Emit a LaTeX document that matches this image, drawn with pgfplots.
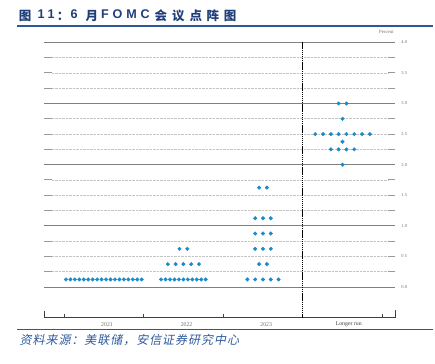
\documentclass[border=0pt]{standalone}
\usepackage{pgfplots}
\pgfplotsset{compat=1.18}
\usepackage{fontspec}
\setmainfont{Liberation Serif}
\newfontfamily\cjk{Noto Sans CJK SC}
\newfontfamily\lat{Liberation Sans}[LetterSpace=30]
\newfontfamily\cjksrc{Noto Sans CJK SC}[FakeSlant=0.2, LetterSpace=8]
\definecolor{dotblue}{HTML}{1B8BC6}
\definecolor{titleblue}{HTML}{1F3F7A}
\definecolor{lineblue}{HTML}{2F559A}
\definecolor{srcblue}{HTML}{2E5A9E}
\definecolor{majorgray}{HTML}{808080}
\definecolor{minorgray}{HTML}{C4C4C4}
\definecolor{labgray}{HTML}{707070}
\begin{document}
\begin{tikzpicture}
\path[use as bounding box] (0,0) rectangle (435bp,364bp);
% title
\begin{scope}[every node/.style={inner sep=0, text=titleblue}]
\node[anchor=base west, font=\cjk\bfseries\fontsize{12.5bp}{15bp}\selectfont] at (18.7bp,343bp) {图};
\node[anchor=base west, font=\lat\bfseries\fontsize{12.6bp}{15bp}\selectfont] at (37.3bp,345bp) {11};
\node[anchor=base, font=\cjk\bfseries\fontsize{12.5bp}{15bp}\selectfont] at (63bp,343bp) {：};
\node[anchor=base west, font=\lat\bfseries\fontsize{12.6bp}{15bp}\selectfont] at (70.5bp,345bp) {6};
\node[anchor=base west, font=\cjk\bfseries\fontsize{12.5bp}{15bp}\selectfont] at (85.3bp,343bp) {月};
\node[anchor=base west, font=\lat\bfseries\fontsize{12.6bp}{15bp}\selectfont] at (101bp,345bp) {FOMC};
\node[anchor=base west, font=\cjk\bfseries\fontsize{12.5bp}{15bp}\selectfont] at (154.3bp,343bp) {会};
\node[anchor=base west, font=\cjk\bfseries\fontsize{12.5bp}{15bp}\selectfont] at (172bp,343bp) {议};
\node[anchor=base west, font=\cjk\bfseries\fontsize{12.5bp}{15bp}\selectfont] at (189.3bp,343bp) {点};
\node[anchor=base west, font=\cjk\bfseries\fontsize{12.5bp}{15bp}\selectfont] at (206.5bp,343bp) {阵};
\node[anchor=base west, font=\cjk\bfseries\fontsize{12.5bp}{15bp}\selectfont] at (223.7bp,343bp) {图};
\end{scope}
\draw[lineblue, line width=1.2bp] (17bp,338bp) -- (433bp,338bp);
\draw[lineblue, line width=1.2bp] (17bp,34.5bp) -- (433bp,34.5bp);
\node[anchor=base west, inner sep=0, text=srcblue, font=\cjksrc\fontsize{12bp}{14bp}\selectfont] at (19.5bp,20bp) {资料来源：美联储，安信证券研究中心};
\begin{axis}[
  at={(44.3bp,46.3bp)}, anchor=south west,
  scale only axis, width=351bp, height=275.4bp,
  xmin=-0.748, xmax=3.663, ymin=-0.5, ymax=4.0,
  axis lines=none, clip=false,
]
% minor dotted lines with stubs
\pgfplotsinvokeforeach{0.25,0.5,0.75,1.25,1.5,1.75,2.25,2.5,2.75,3.25,3.5,3.75}{
  \draw[minorgray, line width=0.6bp, dash pattern=on 0.6bp off 0.8bp] (axis cs:-0.655,#1) -- (axis cs:3.571,#1);
  \draw[gray!80, line width=1bp] (axis cs:-0.748,#1) -- (axis cs:-0.655,#1);
  \draw[gray!80, line width=1bp] (axis cs:3.571,#1) -- (axis cs:3.663,#1);
}
\pgfplotsinvokeforeach{0,1,2,3,4}{
  \draw[majorgray, line width=1bp] (axis cs:-0.748,#1) -- (axis cs:3.663,#1);
}
% right labels
\pgfplotsinvokeforeach{0.0,0.5,1.0,1.5,2.0,2.5,3.0,3.5,4.0}{
  \node[text=labgray, font=\fontsize{4.5bp}{5bp}\selectfont, inner sep=0] at (axis cs:3.776,#1) {#1};
}
\node[text=labgray, font=\fontsize{4.8bp}{5bp}\selectfont, inner sep=0] at (axis cs:3.55,4.163) {Percent};
% bottom axis
\draw[black!75, line width=0.8bp] (axis cs:-0.748,-0.39) -- (axis cs:-0.748,-0.5) -- (axis cs:3.663,-0.5) -- (axis cs:3.663,-0.375);
\pgfplotsinvokeforeach{-0.5,0.5,1.5,3.5}{
  \draw[black!75, line width=0.8bp] (axis cs:#1,-0.5) -- (axis cs:#1,-0.44);
}
\draw[black, line width=1.1bp, dash pattern=on 1.4bp off 0.7bp] (axis cs:2.5,-0.5) -- (axis cs:2.5,4.0);
% category labels
\node[text=labgray, font=\fontsize{5.8bp}{6bp}\selectfont, inner sep=0] at (axis cs:0.04,-0.61) {2021};
\node[text=labgray, font=\fontsize{5.8bp}{6bp}\selectfont, inner sep=0] at (axis cs:1.04,-0.61) {2022};
\node[text=labgray, font=\fontsize{5.8bp}{6bp}\selectfont, inner sep=0] at (axis cs:2.04,-0.61) {2023};
\node[text=black!75, font=\fontsize{5.8bp}{6bp}\selectfont, inner sep=0] at (axis cs:3.078,-0.61) {Longer run};
% dots
\addplot[only marks, mark=*, mark size=1.8bp, color=dotblue, mark options={draw=dotblue, fill=dotblue}] table {
x y
-0.476 0.125
-0.420 0.125
-0.364 0.125
-0.308 0.125
-0.252 0.125
-0.196 0.125
-0.140 0.125
-0.084 0.125
-0.028 0.125
0.028 0.125
0.084 0.125
0.140 0.125
0.196 0.125
0.252 0.125
0.308 0.125
0.364 0.125
0.420 0.125
0.476 0.125
0.720 0.125
0.776 0.125
0.832 0.125
0.888 0.125
0.944 0.125
1.000 0.125
1.056 0.125
1.112 0.125
1.168 0.125
1.224 0.125
1.280 0.125
0.804 0.375
0.902 0.375
1.000 0.375
1.098 0.375
1.196 0.375
0.951 0.625
1.049 0.625
1.804 0.125
1.902 0.125
2.000 0.125
2.098 0.125
2.196 0.125
1.951 0.375
2.049 0.375
1.902 0.625
2.000 0.625
2.098 0.625
1.902 0.875
2.000 0.875
2.098 0.875
1.902 1.125
2.000 1.125
2.098 1.125
1.951 1.625
2.049 1.625
2.951 3.000
3.049 3.000
3.000 2.750
2.657 2.500
2.755 2.500
2.853 2.500
2.951 2.500
3.049 2.500
3.147 2.500
3.245 2.500
3.343 2.500
3.000 2.375
2.853 2.250
2.951 2.250
3.049 2.250
3.147 2.250
3.000 2.000
};
\end{axis}
\end{tikzpicture}
\end{document}
